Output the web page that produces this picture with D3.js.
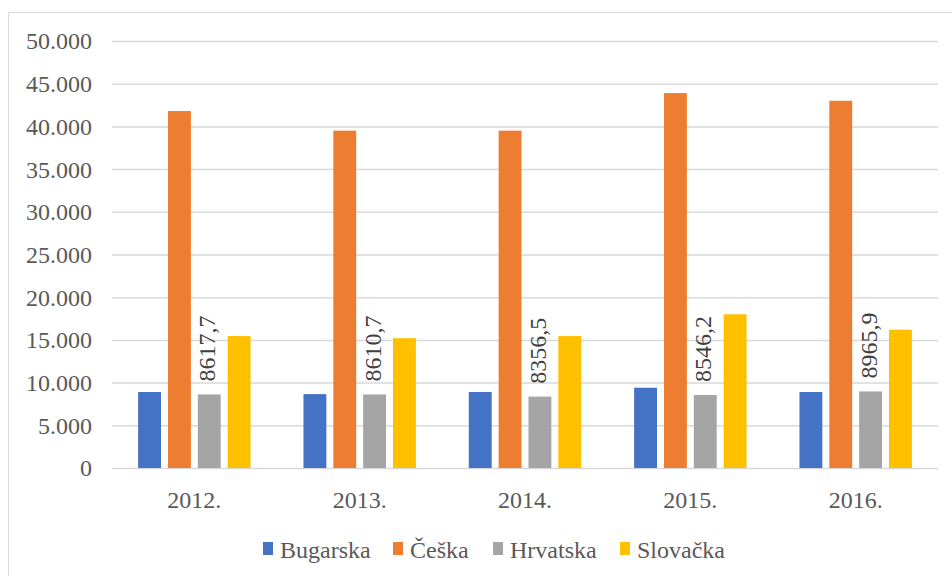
<!DOCTYPE html>
<html>
<head>
<meta charset="utf-8">
<script src="https://d3js.org/d3.v7.min.js"></script>
<style>
  body { margin: 0; background: #fff; }
  svg text { font-family: "Liberation Serif"; }
</style>
</head>
<body>
<div id="chart"></div>
<script>
// data
const years = ["2012.", "2013.", "2014.", "2015.", "2016."]
const series = ["Bugarska", "Češka", "Hrvatska", "Slovačka"]
const bugarska = [8900, 8650, 8900, 9400, 8900]
const ceska = [41800, 39500, 39500, 43900, 43000]
const hrvatska = [8617.7, 8610.7, 8356.5, 8546.2, 8965.9]
const slovacka = [15450, 15200, 15450, 18000, 16200]
const yTicks = [0, 5000, 10000, 15000, 20000, 25000, 30000, 35000, 40000, 45000, 50000]

const colors = ["#4472C4", "#ED7D31", "#A5A5A5", "#FFC000"]
const values = [bugarska, ceska, hrvatska, slovacka]
const FONT = "Liberation Serif"

const width = 952
const height = 576
const margin = {top: 41, right: 14, bottom: 108, left: 112}

const svg = d3.select("#chart")
    .append("svg")
    .attr("width", width)
    .attr("height", height)
    .attr("font-family", FONT)

// outer frame of the chart area (runs past the picture edge)
svg.append("rect")
    .attr("x", 8.5).attr("y", 12.5)
    .attr("width", 1000).attr("height", 700)
    .attr("fill", "none")
    .attr("stroke", "#d9d9d9")

const x0 = d3.scaleBand()
    .domain(years)
    .range([margin.left, width - margin.right])
    .paddingInner(0.32)
    .paddingOuter(0.158)

const x1 = d3.scaleBand()
    .domain(series)
    .range([0, x0.bandwidth()])
    .paddingInner(0.233)

const y = d3.scaleLinear()
    .domain([0, 50000])
    .range([height - margin.bottom, margin.top])

const fmt = d => d === 0 ? "0" : d3.format(",")(d).replace(/,/g, ".")

// gridlines + tick labels
const yAxis = svg.append("g")
    .attr("transform", `translate(${margin.left},0)`)
    .call(d3.axisLeft(y)
        .tickValues(yTicks)
        .tickSize(-(width - margin.left - margin.right))
        .tickFormat(fmt)
        .tickPadding(20))
yAxis.attr("font-family", FONT).attr("font-size", 24)
yAxis.select(".domain").remove()
yAxis.selectAll(".tick line").attr("stroke", "#d9d9d9").attr("stroke-width", 1.5)
yAxis.selectAll(".tick text")
    .attr("fill", "#595959")
    .attr("dy", "0.33em")
    .attr("font-family", FONT)
    .attr("font-size", 24)

// bars
const groups = svg.append("g")
    .selectAll("g")
    .data(years)
    .join("g")
    .attr("transform", d => `translate(${x0(d)},0)`)

groups.selectAll("rect")
    .data((d, i) => series.map((s, j) => ({s: s, v: values[j][i], c: colors[j]})))
    .join("rect")
    .attr("x", d => x1(d.s))
    .attr("width", x1.bandwidth())
    .attr("y", d => y(d.v))
    .attr("height", d => y(0) - y(d.v))
    .attr("fill", d => d.c)

// value labels for Hrvatska only
groups.append("text")
    .attr("transform", (d, i) => `translate(${x1("Hrvatska") + x1.bandwidth() / 2 - 1},${y(hrvatska[i]) - 13}) rotate(-90)`)
    .attr("dy", "0.3em")
    .attr("font-family", FONT)
    .attr("font-size", 24)
    .attr("fill", "#404040")
    .text((d, i) => String(hrvatska[i]).replace(".", ","))

// x axis labels
svg.append("g")
    .selectAll("text")
    .data(years)
    .join("text")
    .attr("x", d => x0(d) + x0.bandwidth() / 2)
    .attr("y", 508)
    .attr("text-anchor", "middle")
    .attr("fill", "#595959")
    .attr("font-family", FONT)
    .attr("font-size", 24)
    .text(d => d)

// legend
const legendX = [263, 393, 493, 620]
const legend = svg.append("g")
    .selectAll("g")
    .data(series)
    .join("g")
    .attr("transform", (d, i) => `translate(${legendX[i]},542)`)
legend.append("rect")
    .attr("width", 10).attr("height", 13)
    .attr("fill", (d, i) => colors[i])
legend.append("text")
    .attr("x", 17).attr("y", 16)
    .attr("fill", "#595959")
    .attr("font-family", FONT)
    .attr("font-size", 24)
    .text(d => d)
</script>
</body>
</html>
